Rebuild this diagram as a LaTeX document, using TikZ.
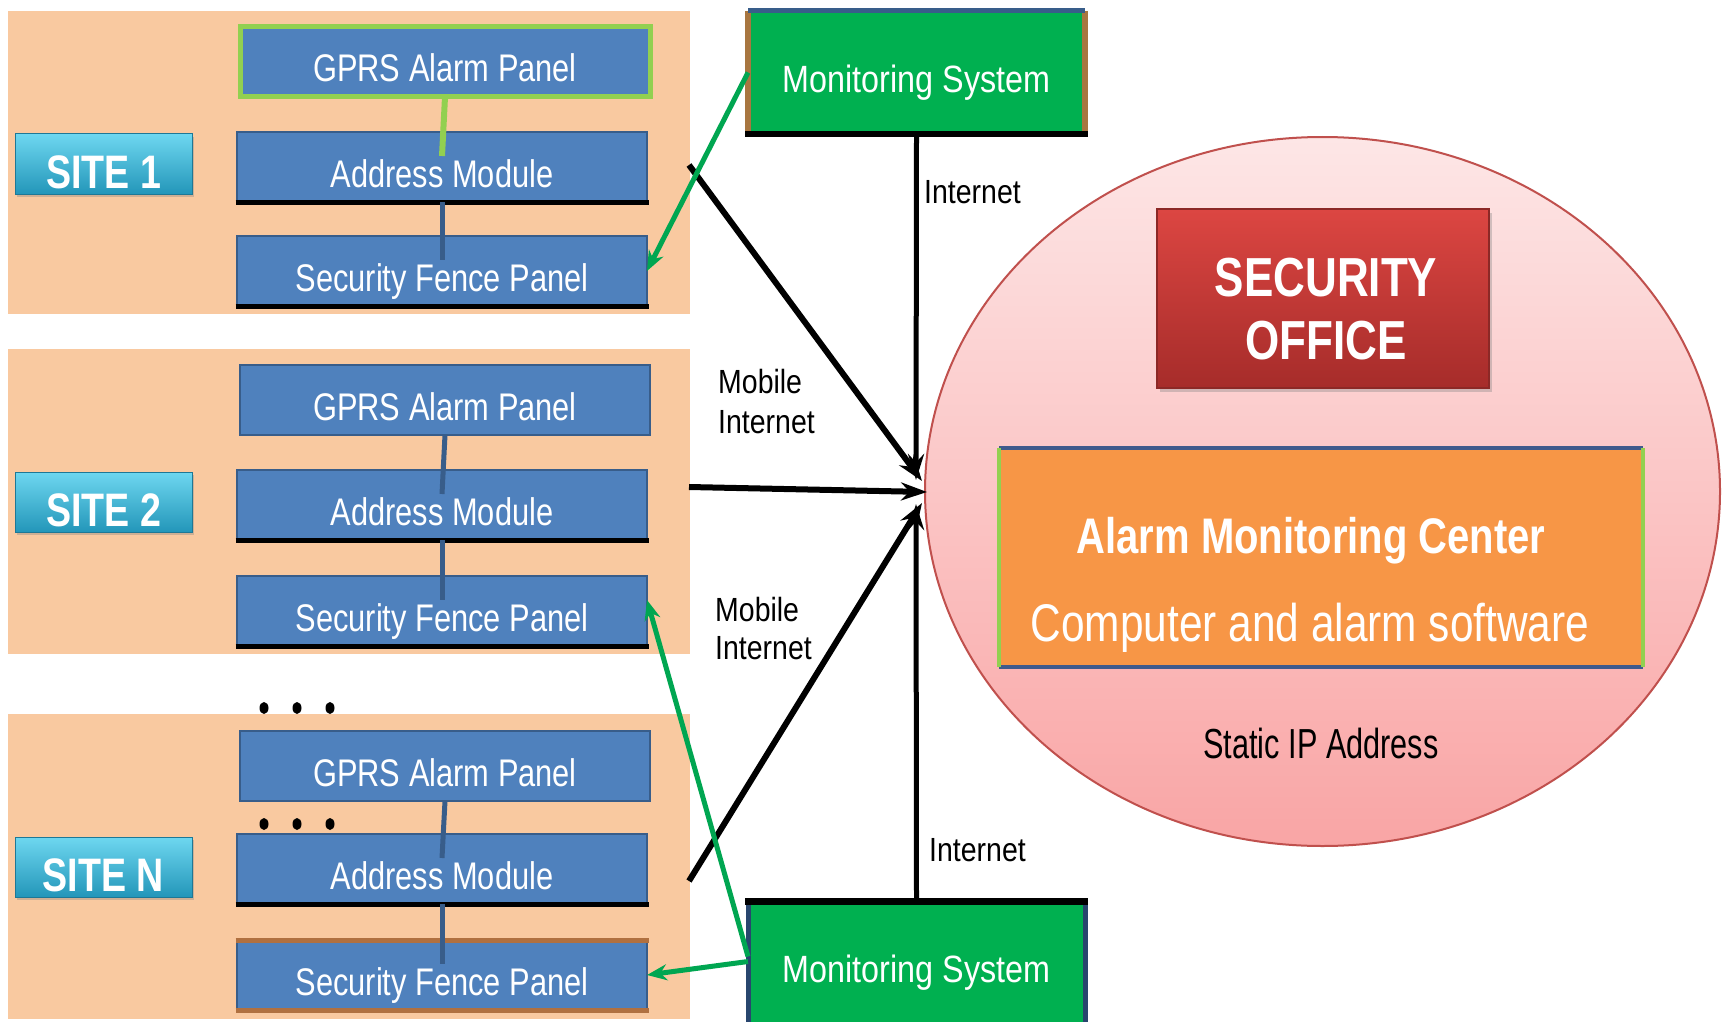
\documentclass[tikz,border=0pt]{standalone}
\usepackage{fontspec}
\setmainfont{Liberation Sans}
\newfontfamily\fa[FakeStretch=0.8]{Liberation Sans}
\newfontfamily\fb[FakeStretch=0.85]{Liberation Sans}
\newfontfamily\fc[FakeStretch=0.73]{Liberation Sans}
\usetikzlibrary{shapes.geometric,arrows.meta,shadows}
\definecolor{peach}{RGB}{249,201,160}
\definecolor{pblue}{RGB}{79,129,189}
\definecolor{pedge}{RGB}{56,93,138}
\definecolor{lgreen}{RGB}{146,208,80}
\definecolor{pbrown}{RGB}{176,112,64}
\definecolor{cyantop}{RGB}{110,215,240}
\definecolor{cyanbot}{RGB}{35,150,185}
\definecolor{cyanedge}{RGB}{30,120,150}
\definecolor{mgreen}{RGB}{0,176,80}
\definecolor{mbrown}{RGB}{168,118,64}
\definecolor{mdark}{RGB}{40,70,110}
\definecolor{agreen}{RGB}{0,166,81}
\definecolor{pinktop}{RGB}{253,230,230}
\definecolor{pinkbot}{RGB}{249,165,165}
\definecolor{pinkedge}{RGB}{192,80,77}
\definecolor{redtop}{RGB}{220,70,66}
\definecolor{redbot}{RGB}{166,44,42}
\definecolor{rededge}{RGB}{140,40,38}
\definecolor{amcfill}{RGB}{247,150,70}
\definecolor{amcedge}{RGB}{63,90,140}
\begin{document}
\begin{tikzpicture}[x=1pt,y=-1pt,
  sitebg/.style={fill=peach, draw=none, anchor=north west, minimum width=682pt, inner sep=0pt, outer sep=0pt},
  panel/.style={fill=pblue, draw=pedge, line width=2.5pt, anchor=north west, minimum width=410pt, minimum height=70pt, inner sep=0pt, outer sep=0pt, text=white, font=\fa\fontsize{38.5}{40}\selectfont, text height=40pt, text depth=0pt},
  sitelab/.style={top color=cyantop, bottom color=cyanbot, draw=cyanedge, line width=1pt, anchor=north west, minimum width=177pt, minimum height=60pt, inner sep=0pt, outer sep=0pt, text=white, font=\fa\bfseries\fontsize{47}{48}\selectfont, text height=48pt, text depth=0pt, drop shadow={opacity=0.35, shadow xshift=2pt, shadow yshift=-3pt}},
  monbox/.style={fill=mgreen, draw=none, anchor=north west, minimum width=337pt, inner sep=0pt, outer sep=0pt, text=white, font=\fb\fontsize{38}{40}\selectfont, text height=41pt, text depth=0pt},
  lbl/.style={font=\fb\fontsize{33.5}{36}\selectfont, inner sep=0pt, anchor=base west, text=black},
  link/.style={line width=5pt, draw=pedge},
  net/.style={line width=6pt, -{Stealth[length=26pt,width=18pt]}},
  netv/.style={line width=5pt, -{Stealth[length=26pt,width=16pt]}},
  garrow/.style={line width=5pt, draw=agreen, -{Stealth[length=20pt,width=16pt]}},
  dotmark/.style={ellipse, fill=black, minimum width=9pt, minimum height=12pt, inner sep=0pt},
  edgeline/.style={line width=5pt}
]
\useasboundingbox[fill=white] (0,0) rectangle (1723,1022);

% site backgrounds
\node[sitebg, minimum height=303pt] (bg1) at (8,11) {};
\node[sitebg, minimum height=305pt] (bg2) at (8,349) {};
\node[sitebg, minimum height=305pt] (bgn) at (8,714) {};

% office ellipse
\node[ellipse, minimum width=795pt, minimum height=709pt, top color=pinktop, bottom color=pinkbot, draw=pinkedge, line width=2pt, inner sep=0pt] (circ) at (1322.5,491.5) {};

% site labels
\node[sitelab] (l1) at (15,134) {SITE 1};
\node[sitelab] (l2) at (15,472) {SITE 2};
\node[sitelab] (ln) at (15,837) {SITE N};

% panels site 1
\node[panel, draw=lgreen, line width=5pt] (g1) at (240,27) {GPRS Alarm Panel};
\node[panel] (a1) at (237,132) {Address Module};
\node[panel] (s1) at (237,236) {Security Fence Panel};
% panels site 2
\node[panel] (g2) at (240,365) {GPRS Alarm Panel};
\node[panel] (a2) at (237,470) {Address Module};
\node[panel] (s2) at (237,576) {Security Fence Panel};
% panels site N
\node[panel] (gn) at (240,731) {GPRS Alarm Panel};
\node[panel] (an) at (237,834) {Address Module};
\node[panel] (sn) at (237,940) {Security Fence Panel};

% dark bottoms
\foreach \n in {a1,s1,a2,s2,an}{
  \draw[edgeline, black] ([xshift=-1.5pt]\n.south west) -- ([xshift=1.5pt]\n.south east);
}
\draw[edgeline, pbrown] ([xshift=-1.5pt]sn.north west) -- ([xshift=1.5pt]sn.north east);
\draw[edgeline, pbrown] ([xshift=-1.5pt]sn.south west) -- ([xshift=1.5pt]sn.south east);

% internal links
\draw[link, draw=lgreen, line width=6pt] (g1.south) -- ([yshift=-24pt]a1.north);
\draw[link] (a1.south) -- ([yshift=-24pt]s1.north);
\draw[link] (g2.south) -- ([yshift=-24pt]a2.north);
\draw[link] (a2.south) -- ([yshift=-24pt]s2.north);
\draw[link] (gn.south) -- ([yshift=-24pt]an.north);
\draw[link] (an.south) -- ([yshift=-24pt]sn.north);

% dots
\node[dotmark] (d1) at (264,708) {};
\node[dotmark] (d2) at (297,708) {};
\node[dotmark] (d3) at (330,708) {};
\node[dotmark] (d4) at (264,824) {};
\node[dotmark] (d5) at (297,824) {};
\node[dotmark] (d6) at (330,824) {};

% security office
\node[anchor=north west, minimum width=332pt, minimum height=179pt, inner sep=0pt, outer sep=0pt, top color=redtop, bottom color=redbot, draw=rededge, line width=1.5pt, drop shadow={opacity=0.35, shadow xshift=3pt, shadow yshift=-4pt}] (sec) at (1157,209) {};
\node[anchor=base, inner sep=0pt, text=white, font=\fa\bfseries\fontsize{55}{60}\selectfont] (sect1) at (1326,296) {SECURITY};
\node[anchor=base, inner sep=0pt, text=white, font=\fa\bfseries\fontsize{55}{60}\selectfont] (sect2) at (1326,359) {OFFICE};

% alarm monitoring center
\node[anchor=north west, minimum width=644pt, minimum height=219pt, inner sep=0pt, outer sep=0pt, fill=amcfill] (amc) at (999,448) {};
\draw[line width=4pt, amcedge] (amc.north west) -- (amc.north east);
\draw[line width=4pt, amcedge] (amc.south west) -- (amc.south east);
\draw[line width=4pt, lgreen] (amc.north west) -- (amc.south west);
\draw[line width=4pt, lgreen] (amc.north east) -- (amc.south east);
\node[anchor=base, inner sep=0pt, text=white, font=\fa\bfseries\fontsize{50}{54}\selectfont] (amct1) at (1311,553) {Alarm Monitoring Center};
\node[anchor=base, inner sep=0pt, text=white, font=\fa\fontsize{53}{56}\selectfont] (amct2) at (1310,641) {Computer and alarm software};
\node[anchor=base, inner sep=0pt, text=black, font=\fc\fontsize{42}{44}\selectfont] (sip) at (1321,758) {Static IP Address};

% monitoring systems
\node[monbox, minimum height=123pt] (mon1) at (748,11) {Monitoring System};
\draw[line width=6pt, mbrown] (mon1.north west) -- (mon1.south west);
\draw[line width=6pt, mbrown] (mon1.north east) -- (mon1.south east);
\draw[line width=5pt, pedge] (mon1.north west) -- (mon1.north east);
\draw[line width=6pt, black] ([xshift=-3pt]mon1.south west) -- ([xshift=3pt]mon1.south east);

\node[monbox, minimum height=121pt] (mon2) at (748,901) {Monitoring System};
\draw[line width=5pt, mdark] (mon2.north west) -- (mon2.south west);
\draw[line width=5pt, mdark] (mon2.north east) -- (mon2.south east);
\draw[line width=7pt, black] ([xshift=-3pt]mon2.north west) -- ([xshift=3pt]mon2.north east);

% hub coordinates
\coordinate (c1) at (689,165);
\coordinate (c2) at (689,487);
\coordinate (c3) at (689,881);
\coordinate (h1) at (922,481);
\coordinate (h2) at (927,492);
\coordinate (h3) at (922,503);
\coordinate (hv1) at (916,480);
\coordinate (hv2) at (916,504);

% network arrows
\draw[netv] (mon1.south) -- (hv1);
\draw[netv] (mon2.north) -- (hv2);
\draw[net] (c1) -- (h1);
\draw[net] (c2) -- (h2);
\draw[net] (c3) -- (h3);

% green arrows
\draw[garrow] (mon1.west) -- (s1.east);
\draw[garrow] ([yshift=5pt]mon2.west) -- ([yshift=11pt]s2.east);
\draw[garrow] (mon2.west) -- (sn.east);

% labels
\node[lbl] (inet1) at (924,203) {Internet};
\node[lbl] (inet2) at (929,861) {Internet};
\node[lbl] (mob1) at (718,393) {Mobile};
\node[lbl] (mob1b) at (718,433) {Internet};
\node[lbl] (mob2) at (715,621) {Mobile};
\node[lbl] (mob2b) at (715,659) {Internet};
\end{tikzpicture}
\end{document}
